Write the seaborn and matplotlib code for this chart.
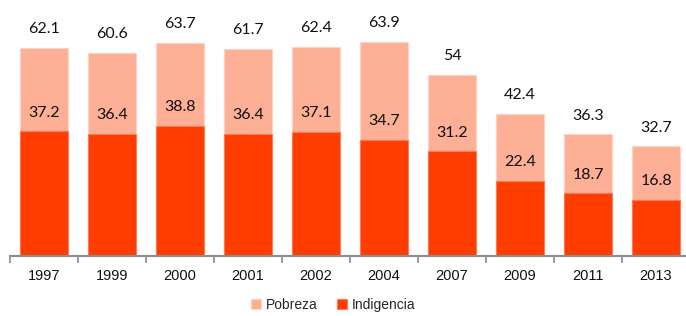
import matplotlib
matplotlib.use('Agg')
import matplotlib.pyplot as plt
import pandas as pd
import seaborn as sns

# Data
years = ['1997', '1999', '2000', '2001', '2002', '2004', '2007', '2009', '2011', '2013']
pobreza = [62.1, 60.6, 63.7, 61.7, 62.4, 63.9, 54, 42.4, 36.3, 32.7]
indigencia = [37.2, 36.4, 38.8, 36.4, 37.1, 34.7, 31.2, 22.4, 18.7, 16.8]

df = pd.DataFrame({'year': years, 'Pobreza': pobreza, 'Indigencia': indigencia})

c_pob = '#FDB096'
c_ind = '#FF3D00'

sns.set_style('white')
plt.rcParams['font.family'] = ['Liberation Sans', 'DejaVu Sans']

fig = plt.figure(figsize=(6.86, 3.16), dpi=100)
ax = fig.add_axes([10 / 686, 60 / 316, 680 / 686, 256 / 316])

# Overlapping bars: poverty (total) behind, extreme poverty in front
sns.barplot(data=df, x='year', y='Pobreza', color=c_pob, width=0.7,
            saturation=1, ax=ax, label='Pobreza',
            edgecolor='#fdd3c4', linewidth=0.8)
sns.barplot(data=df, x='year', y='Indigencia', color=c_ind, width=0.7,
            saturation=1, ax=ax, label='Indigencia',
            edgecolor='#ff7a55', linewidth=0.8)

ax.set_xlim(-0.5, 9.5)
ax.set_ylim(0, 76.4)

# Value labels
for i, (p, ind) in enumerate(zip(pobreza, indigencia)):
    ax.text(i, p + 5.6, f'{p:g}', ha='center', va='center', fontsize=11.5,
            family='Lato', color='#111111')
    ax.text(i, ind + 5.6, f'{ind:g}', ha='center', va='center', fontsize=11.5,
            family='Lato', color='#111111')

# Axis styling
for s in ['top', 'right', 'left']:
    ax.spines[s].set_visible(False)
ax.spines['bottom'].set_color('#8c8c8c')
ax.spines['bottom'].set_linewidth(1.5)
ax.set_yticks([])
ax.set_xlabel('')
ax.set_ylabel('')

# Tick marks between categories, labels at centers
ax.set_xticks([i - 0.5 for i in range(len(years) + 1)])
ax.set_xticklabels([])
ax.tick_params(axis='x', which='major', direction='out', length=5, width=1.2,
               color='#8c8c8c', bottom=True)
ax.set_xticks(range(len(years)), minor=True)
ax.set_xticklabels(years, minor=True, fontsize=10.5, color='#111111')
ax.tick_params(axis='x', which='minor', length=0, pad=9)

ax.legend(loc='center', bbox_to_anchor=(0.475, -0.19), ncol=2, frameon=False,
          fontsize=10, handlelength=0.75, handleheight=0.75, handletextpad=0.3,
          columnspacing=1.4)

fig.savefig('out.png', dpi=100)
